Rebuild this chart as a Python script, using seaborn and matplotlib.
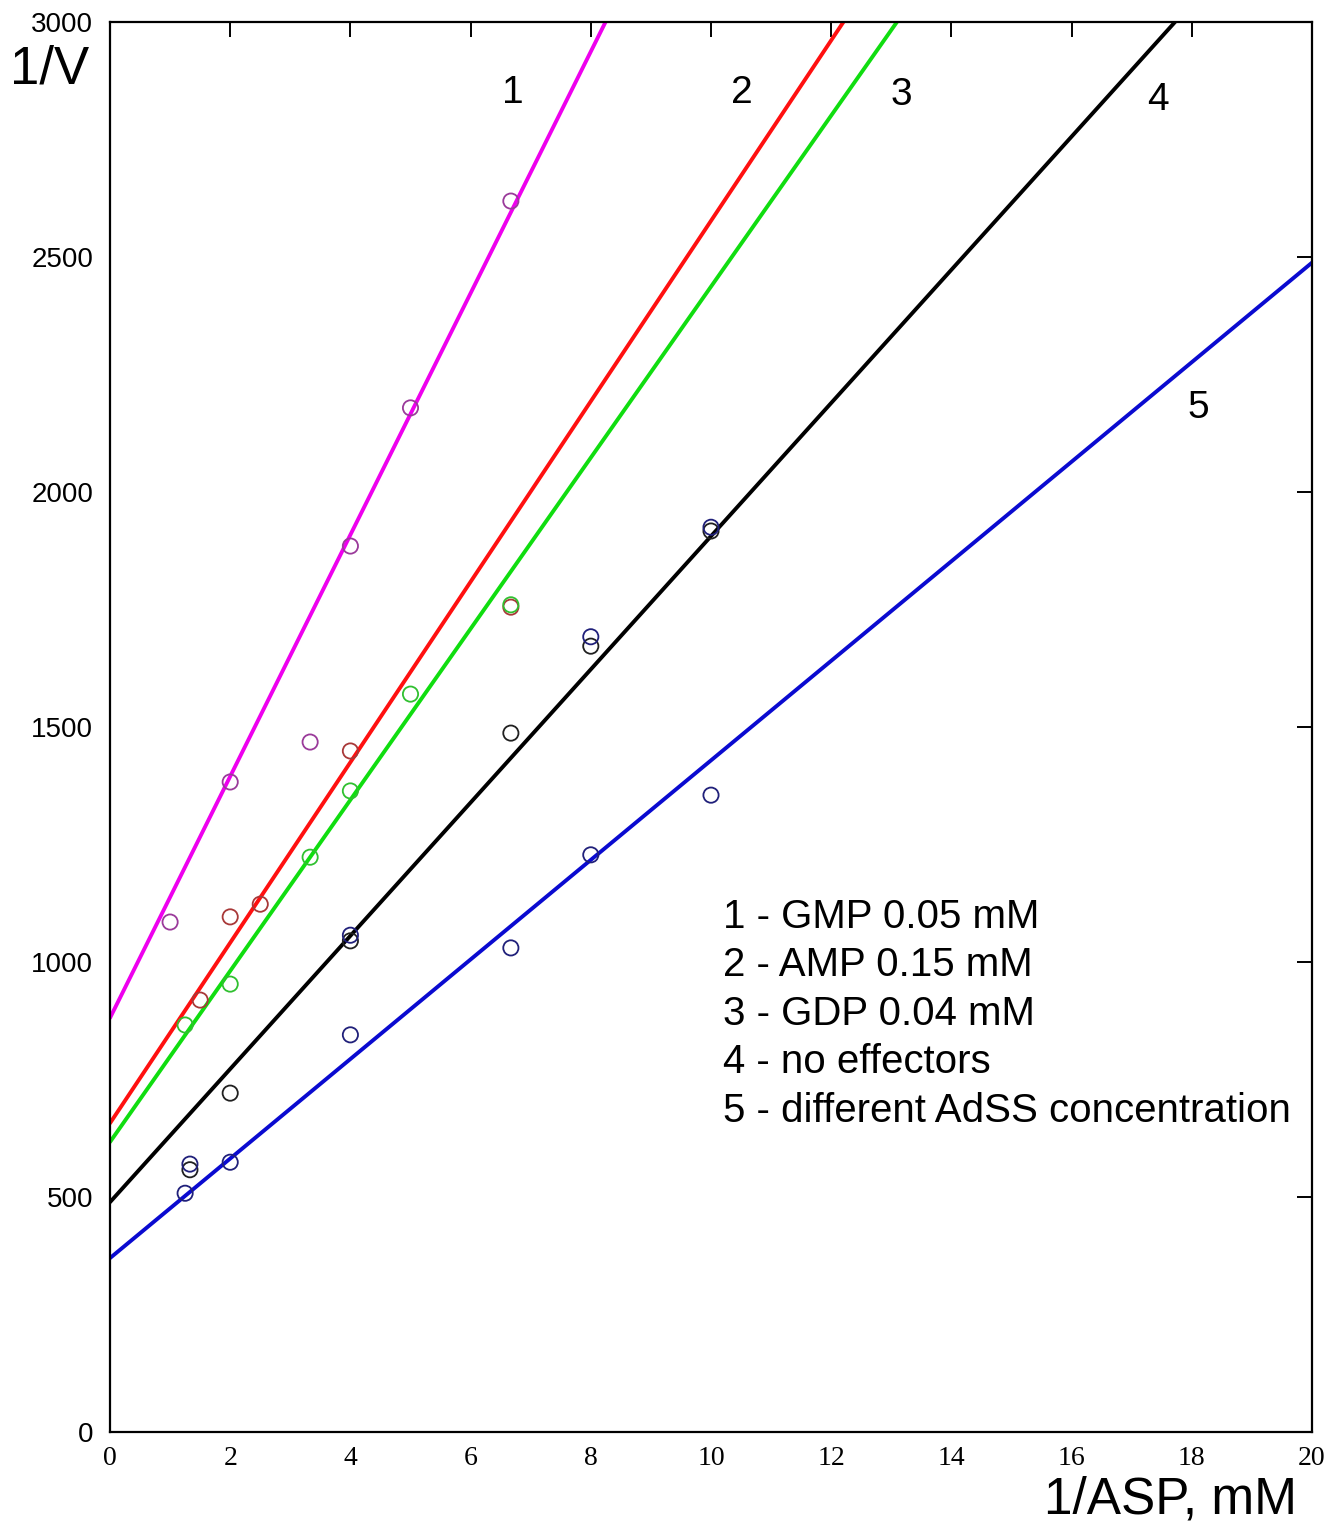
import numpy as np
import pandas as pd
import matplotlib.pyplot as plt
import seaborn as sb

# fitted lines (Lineweaver-Burk), intercept and slope
line_ids = ['1', '2', '3', '4', '5']
intercepts = [881, 657, 617, 489, 370]
slopes = [257, 192, 182, 141.7, 105.9]
line_colors = ['#ee00ee', '#ff1010', '#10dd10', '#000000', '#0a0ad0']

# measured points, x = 1/ASP, y = 1/V
pts_1_x = [1, 2, 3.33, 4, 5, 6.67]
pts_1_y = [1085, 1383, 1468, 1885, 2179, 2619]
pts_2_x = [1.5, 2, 2.5, 4, 6.67]
pts_2_y = [919, 1096, 1123, 1449, 1755]
pts_3_x = [1.25, 2, 3.33, 4, 5, 6.67]
pts_3_y = [866, 953, 1223, 1364, 1570, 1760]
pts_4_x = [1.33, 2, 4, 6.67, 8, 10]
pts_4_y = [558, 721, 1045, 1487, 1672, 1917]
pts_5_x = [1.25, 1.33, 2, 4, 4, 6.67, 8, 8, 10, 10]
pts_5_y = [508, 570, 574, 845, 1057, 1030, 1228, 1692, 1355, 1925]
marker_colors = ['#9a3a9a', '#a83838', '#30c030', '#202020', '#20207a']

legend_lines = ['1 - GMP 0.05 mM', '2 - AMP 0.15 mM', '3 - GDP 0.04 mM',
                '4 - no effectors', '5 - different AdSS concentration']

sb.set_style('white')
plt.rcParams['font.family'] = ['Liberation Sans', 'DejaVu Sans']
plt.rcParams['text.color'] = 'black'
plt.rcParams['xtick.color'] = 'black'
plt.rcParams['ytick.color'] = 'black'

fig = plt.figure(figsize=(13.3, 15.32), dpi=100)
ax = fig.add_axes([110/1330, 100/1532, 1202/1330, 1410/1532])

xs = np.array([0.0, 20.0])
for b, k, c in zip(intercepts, slopes, line_colors):
    sb.lineplot(x=xs, y=b + k*xs, color=c, lw=2.8, ax=ax)

all_x = [pts_1_x, pts_2_x, pts_3_x, pts_4_x, pts_5_x]
all_y = [pts_1_y, pts_2_y, pts_3_y, pts_4_y, pts_5_y]
for px, py, c in zip(all_x, all_y, marker_colors):
    df = pd.DataFrame({'x': px, 'y': py})
    sb.scatterplot(data=df, x='x', y='y', marker='o', s=120,
                   facecolor='none', edgecolor=c, linewidth=1.3, ax=ax, zorder=3)

ax.set_xlim(0, 20)
ax.set_ylim(0, 3000)
ax.set_xticks(np.arange(0, 21, 2))
ax.set_yticks(np.arange(0, 3001, 500))
ax.set_xlabel('')
ax.set_ylabel('')
for s in ax.spines.values():
    s.set_linewidth(1.6)
    s.set_color('black')
ax.tick_params(axis='both', direction='in', top=True, right=True,
               length=11, width=1.4, color='black', labelcolor='black')
ax.tick_params(axis='x', pad=10)
ax.tick_params(axis='y', pad=12)
for t in ax.get_xticklabels():
    t.set_family(['Liberation Serif', 'DejaVu Serif'])
    t.set_fontsize(20)
for t in ax.get_yticklabels():
    t.set_family(['Liberation Sans Narrow', 'Liberation Sans', 'DejaVu Sans'])
    t.set_fontsize(20)

# curve numbers
lbl_x = [6.71, 10.52, 13.16, 17.44, 18.1]
lbl_y = [2849, 2849, 2845, 2834, 2179]
for name, lx, ly in zip(line_ids, lbl_x, lbl_y):
    ax.text(lx, ly, name, fontsize=28, ha='center', va='center', color='black')

# key text
for i, line in enumerate(legend_lines):
    ax.text(10.2, 1096 - i*103, line, fontsize=29, ha='left', va='center',
            color='black')

fig.text(50/1330, 1 - 70/1532, '1/V', fontsize=38, ha='center', va='center')
fig.text(1170/1330, 1 - 1500/1532, '1/ASP, mM', fontsize=37, ha='center', va='center')

plt.savefig('out.png', dpi=100)
